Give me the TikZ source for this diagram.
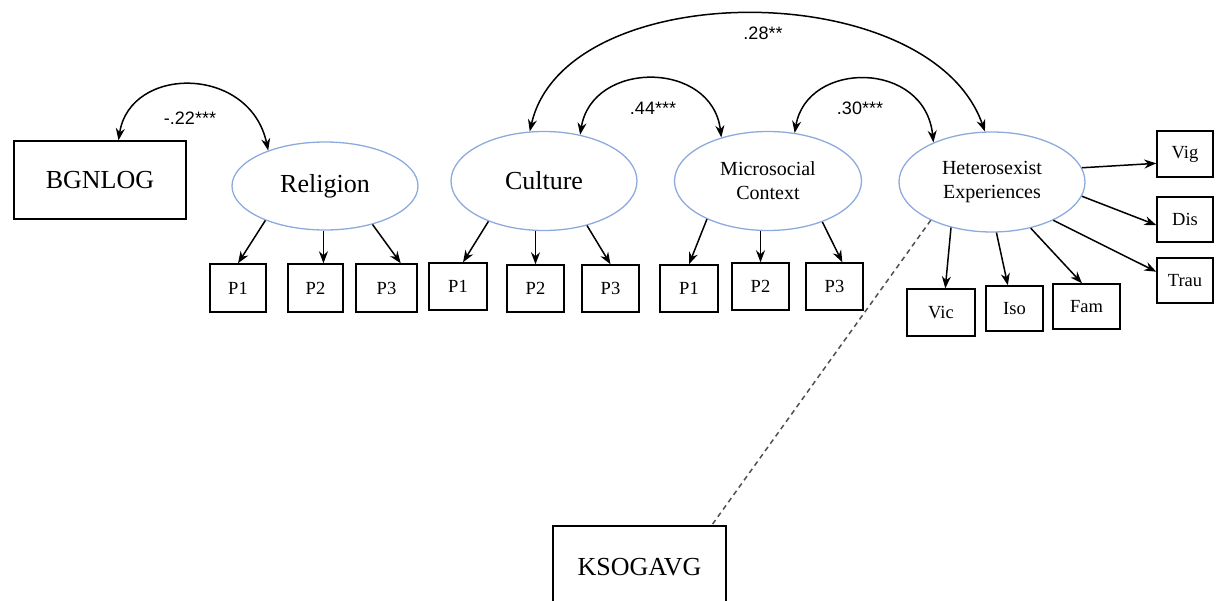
\documentclass[tikz,border=0pt]{standalone}
\usepackage{fontspec}
\setmainfont{Liberation Serif}
\newfontfamily\lblfont{Liberation Sans}
\usetikzlibrary{shapes.geometric,arrows.meta,calc}
\definecolor{ellblue}{RGB}{140,170,222}
\definecolor{dashgray}{RGB}{80,80,80}
\tikzset{
  obsbox/.style={draw=black,line width=1.4pt,inner sep=0pt,font=\fontsize{18.5}{20}\selectfont},
  bigbox/.style={draw=black,line width=1.4pt,inner sep=0pt,font=\fontsize{26}{28}\selectfont},
  latent/.style={ellipse,draw=ellblue,line width=1.3pt,inner sep=0pt,align=center},
  arr/.style={line width=1.5pt,-{Stealth[length=12pt,width=9pt]}},
  darr/.style={line width=1.5pt,{Stealth[length=12pt,width=9pt]}-{Stealth[length=12pt,width=9pt]}},
  coef/.style={font=\lblfont\fontsize{18}{20}\selectfont,inner sep=0pt},
}
\begin{document}
\begin{tikzpicture}[x=1pt,y=-1pt]
\useasboundingbox (0,0) rectangle (1216,600);
% exogenous boxes
\node[bigbox,minimum width=172pt,minimum height=78pt] (bgn) at (100,180) {BGNLOG};
\node[bigbox,minimum width=173pt,minimum height=82pt] (ksog) at (639.5,567) {KSOGAVG};
% latent variables
\node[latent,minimum width=186pt,minimum height=88pt,font=\fontsize{26}{28}\selectfont] (rel) at (325,186) {Religion};
\node[latent,minimum width=186pt,minimum height=99pt,font=\fontsize{26}{28}\selectfont] (cul) at (544,181) {Culture};
\node[latent,minimum width=187pt,minimum height=99pt,font=\fontsize{20}{24}\selectfont] (mic) at (768,181) {Microsocial\\Context};
\node[latent,minimum width=186pt,minimum height=100pt,font=\fontsize{20}{24}\selectfont] (het) at (992,182) {Heterosexist\\Experiences};
% indicators
\node[obsbox,minimum width=56pt,minimum height=48pt] (rp1) at (238,288) {P1};
\node[obsbox,minimum width=55pt,minimum height=48pt] (rp2) at (315.5,288) {P2};
\node[obsbox,minimum width=61pt,minimum height=48pt] (rp3) at (386.5,288) {P3};
\node[obsbox,minimum width=58pt,minimum height=47pt] (cp1) at (458,286.5) {P1};
\node[obsbox,minimum width=57pt,minimum height=47pt] (cp2) at (535.5,288.5) {P2};
\node[obsbox,minimum width=57pt,minimum height=47pt] (cp3) at (610.5,288.5) {P3};
\node[obsbox,minimum width=58pt,minimum height=47pt] (mp1) at (689,288.5) {P1};
\node[obsbox,minimum width=57pt,minimum height=47pt] (mp2) at (760.5,286.5) {P2};
\node[obsbox,minimum width=57pt,minimum height=47pt] (mp3) at (834.5,286.5) {P3};
\node[obsbox,minimum width=56pt,minimum height=46pt] (vig) at (1185,154) {Vig};
\node[obsbox,minimum width=56pt,minimum height=45pt] (dis) at (1185,219.5) {Dis};
\node[obsbox,minimum width=56pt,minimum height=45pt] (trau) at (1185,280.5) {Trau};
\node[obsbox,minimum width=68pt,minimum height=47pt] (vic) at (941,312.5) {Vic};
\node[obsbox,minimum width=57pt,minimum height=45pt] (iso) at (1014.5,308.5) {Iso};
\node[obsbox,minimum width=67pt,minimum height=45pt] (fam) at (1086.5,306.5) {Fam};
% loadings
\draw[arr] (rel.210) -- (rp1.north);
\draw[arr] (rel.268) -- (rel.268 |- rp2.north);
\draw[arr] (rel.321) -- (rp3.60);
\draw[arr] (cul.216) -- ($(cp1.north)+(5,0)$);
\draw[arr] (cul.south -| cp2.north) -- (cp2.north);
\draw[arr] (cul.314) -- (cp3.north);
\draw[arr] (mic.212) -- (mp1.north);
\draw[arr] (mic.south -| mp2.north) -- (mp2.north);
\draw[arr] (mic.323) -- (mp3.72);
\draw[arr] (het.9) -- (vig.198);
\draw[arr] (het.351) -- (dis.191);
\draw[arr] (het.328) -- (trau.163);
\draw[arr] (het.228) -- (vic.80);
\draw[arr] (het.275) -- (iso.106);
\draw[arr] (het.310) -- (fam.101);
% covariances
\draw[darr] (bgn.65) .. controls (130,65) and (250,65) .. (rel.148);
\draw[darr] (cul.106) .. controls (565,-25) and (930,-25) .. (het.98);
\draw[darr] (cul.52) .. controls (592,60) and (712,60) .. (mic.137);
\draw[darr] (mic.61) .. controls (807,60) and (925,60) .. (het.146);
\draw[dashgray,line width=1.5pt,dash pattern=on 5pt off 4pt] (het.212) -- (ksog.30);
% coefficient labels
\node[coef] (l1) at (190,118) {-.22***};
\node[coef] (l2) at (763,33) {.28**};
\node[coef] (l3) at (653,108) {.44***};
\node[coef] (l4) at (860,108) {.30***};
\end{tikzpicture}
\end{document}
